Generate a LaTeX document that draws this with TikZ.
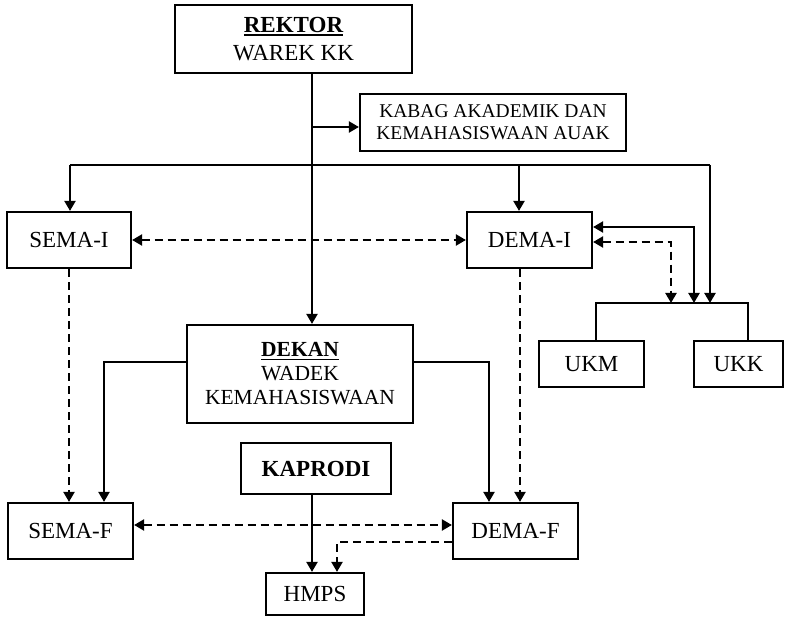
\documentclass[tikz,border=0pt]{standalone}
\usepackage{fontspec}
\setmainfont{Liberation Serif}
\usetikzlibrary{arrows.meta}
\newcommand\myul[1]{\setbox0\hbox{#1}\rlap{\rule[-3.5pt]{\wd0}{1.8pt}}\box0}
\begin{document}
\begin{tikzpicture}[x=1pt,y=-1pt,
  box/.style={draw,line width=2.2pt,inner sep=0pt,align=center,
    font=\fontsize{23}{28}\selectfont},
  ln/.style={line width=2.2pt},
  arr/.style={ln,-{Triangle[length=10pt,width=11pt]}},
  darr/.style={ln,{Triangle[length=10pt,width=11pt]}-{Triangle[length=10pt,width=11pt]}},
  dsh/.style={dash pattern=on 8pt off 5pt}]
\useasboundingbox (0,0) rectangle (785,617);
% boxes
\node[box,minimum width=237,minimum height=68] (rektor) at (293.5,39) {\textbf{\myul{REKTOR}}\\WAREK KK};
\node[box,minimum width=266,minimum height=57,font=\fontsize{19.5}{22}\selectfont] (kabag) at (493,122.5) {KABAG AKADEMIK DAN\\KEMAHASISWAAN AUAK};
\node[box,minimum width=124,minimum height=56] (semai) at (69,240) {SEMA-I};
\node[box,minimum width=125,minimum height=56] (demai) at (529.5,240) {DEMA-I};
\node[box,minimum width=105,minimum height=46] (ukm) at (591.5,364) {UKM};
\node[box,minimum width=89,minimum height=46] (ukk) at (738.5,364) {UKK};
\node[box,minimum width=226,minimum height=98,font=\fontsize{21.5}{24}\selectfont] (dekan) at (300,374) {\textbf{\myul{DEKAN}}\\WADEK\\KEMAHASISWAAN};
\node[box,minimum width=150,minimum height=51] (kaprodi) at (316,468.5) {\textbf{KAPRODI}};
\node[box,minimum width=125,minimum height=56] (semaf) at (70.5,531) {SEMA-F};
\node[box,minimum width=125,minimum height=56] (demaf) at (515.5,531) {DEMA-F};
\node[box,minimum width=98,minimum height=42] (hmps) at (315,594) {HMPS};
% helper coordinates
\coordinate (tx) at (312,0);
\coordinate (busL) at (70,165);
\coordinate (busD) at (519,165);
\coordinate (busR) at (710,165);
\coordinate (bl) at (596,303);
\coordinate (br) at (748,303);
\coordinate (s1) at (694,227);
\coordinate (d1) at (671,242);
\coordinate (dl) at (104,362);
\coordinate (dr) at (489,362);
\coordinate (dd) at (520,0);
\coordinate (hm) at (337,542);
\coordinate (kb) at (0,127);
% trunk
\draw[arr] (rektor.south -| tx) -- (dekan.north -| tx);
\draw[arr] (tx |- kb) -- (kabag.west |- kb);
% bus
\draw[ln] (busL) -- (busR);
\draw[arr] (busL) -- (semai.north -| busL);
\draw[arr] (busD) -- (demai.north -| busD);
\draw[arr] (busR) -- (busR |- bl);
% DEMA-I to UKM/UKK
\draw[darr] (demai.east |- s1) -- (s1) -- (s1 |- bl);
\draw[darr,dsh] (demai.east |- d1) -- (d1) -- (d1 |- bl);
\draw[ln] (ukm.north -| bl) -- (bl) -- (br) -- (ukk.north -| br);
% SEMA-I <-> DEMA-I
\draw[darr,dsh] (semai.east) -- (demai.west);
\draw[arr,dsh] (semai.south) -- (semai.south |- semaf.north);
\draw[arr,dsh] (demai.south -| dd) -- (demaf.north -| dd);
% DEKAN to SEMA-F / DEMA-F
\draw[arr] (dekan.west |- dl) -- (dl) -- (dl |- semaf.north);
\draw[arr] (dekan.east |- dr) -- (dr) -- (dr |- demaf.north);
% bottom
\draw[darr,dsh] ([yshift=6pt]semaf.east) -- ([yshift=6pt]demaf.west);
\draw[arr] (kaprodi.south -| tx) -- (hmps.north -| tx);
\draw[arr,dsh] (demaf.west |- hm) -- (hm) -- (hm |- hmps.north);
\end{tikzpicture}
\end{document}
